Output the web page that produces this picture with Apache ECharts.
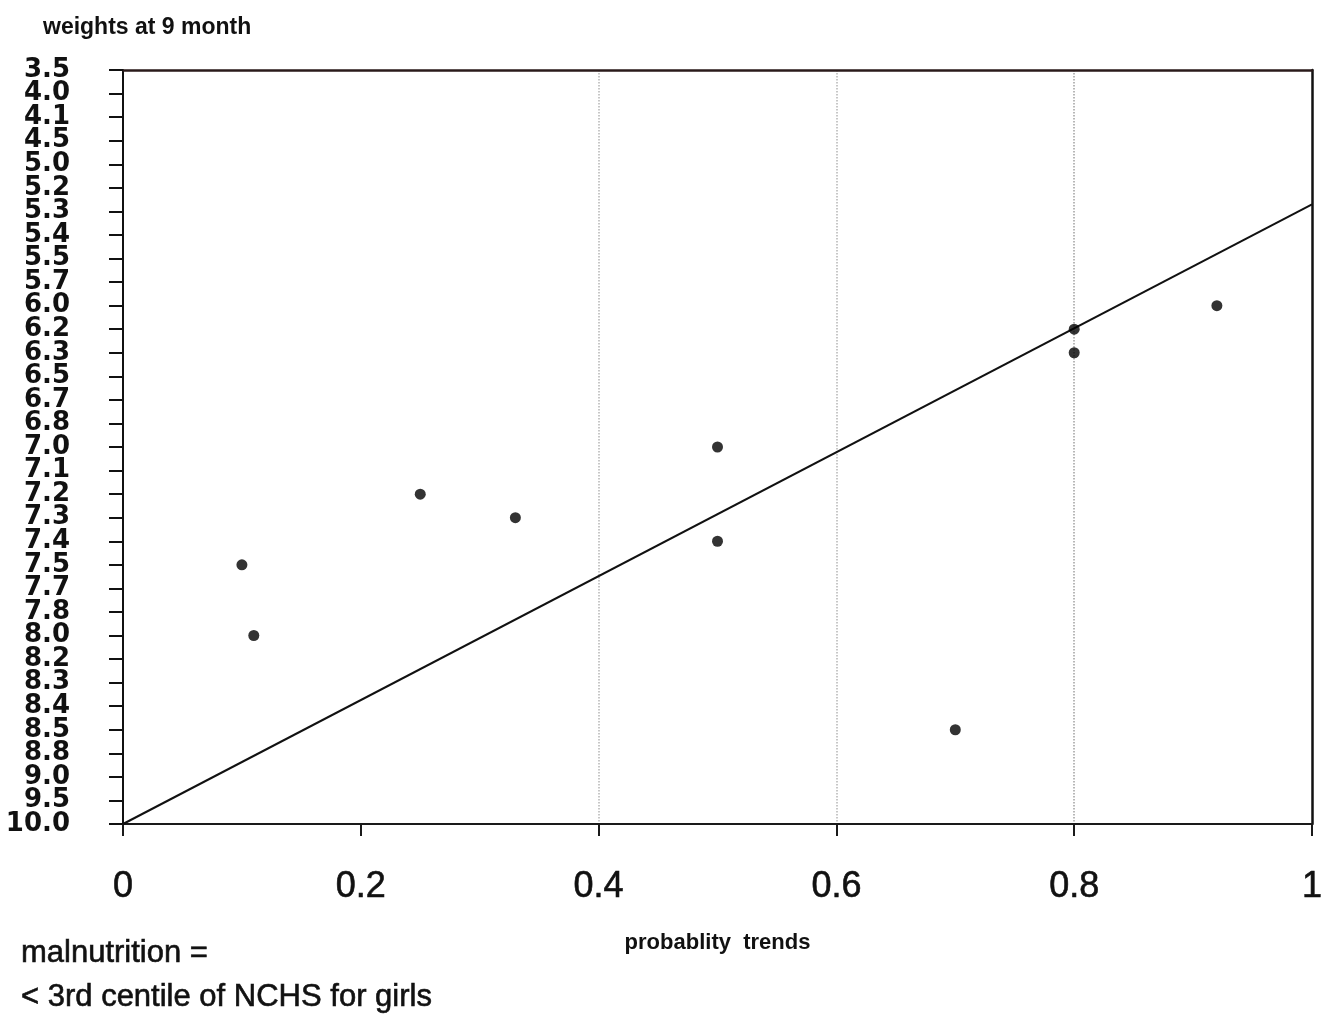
<!DOCTYPE html>
<html>
<head>
<meta charset="utf-8">
<script src="https://cdn.jsdelivr.net/npm/echarts@6/dist/echarts.min.js"></script>
<style>
  html, body { margin: 0; padding: 0; background: #fff; }
  #chart { width: 1327px; height: 1015px; }
</style>
</head>
<body>
<div id="chart"></div>
<script>
// Y axis tick labels (equally spaced in the original, top to bottom)
const yTickLabels = ['3.5','4.0','4.1','4.5','5.0','5.2','5.3','5.4','5.5','5.7',
  '6.0','6.2','6.3','6.5','6.7','6.8','7.0','7.1','7.2','7.3','7.4','7.5','7.7',
  '7.8','8.0','8.2','8.3','8.4','8.5','8.8','9.0','9.5','10.0'];
// X axis
const xTicks = [0, 0.2, 0.4, 0.6, 0.8, 1];
// Observed points: probability trend vs weight at 9 months (kg)
const pointsX = [0.10, 0.11, 0.25, 0.33, 0.50, 0.50, 0.70, 0.80, 0.80, 0.92];
const pointsW = [7.5, 8.0, 7.2, 7.3, 7.0, 7.4, 8.5, 6.2, 6.3, 6.0];
// Trend line
const trendX = [0, 1];
const trendW = [10.0, 5.27];

// piecewise-linear scale from weight to equally spaced tick position
const tickVals = yTickLabels.map(Number);
function weightToPos(w) {
  for (let i = 0; i < tickVals.length - 1; i++) {
    const a = tickVals[i], b = tickVals[i + 1];
    if (w >= a && w <= b) return i + (w - a) / (b - a);
  }
  return w < tickVals[0] ? 0 : tickVals.length - 1;
}

const chart = echarts.init(document.getElementById('chart'));
const option = {
  animation: false,
  backgroundColor: '#fff',
  title: [
    { text: 'weights at 9 month', left: 38, top: 11,
      textStyle: { fontFamily: 'Liberation Sans', fontSize: 23, fontWeight: 'bold', color: '#111' } },
    { text: 'malnutrition =\n< 3rd centile of NCHS for girls', left: 16, top: 926,
      textStyle: { fontFamily: 'Liberation Sans', fontSize: 31, fontWeight: 'normal', color: '#111', lineHeight: 44,
        textBorderColor: '#111', textBorderWidth: 0.6 } }
  ],
  grid: { left: 123, right: 15, top: 70, bottom: 191, containLabel: false },
  xAxis: [
    {
      type: 'value', min: 0, max: 1, interval: 0.2, position: 'bottom',
      name: 'probablity  trends', nameLocation: 'middle', nameGap: 108,
      nameTextStyle: { fontFamily: 'Liberation Sans', fontSize: 22, fontWeight: 'bold', color: '#111' },
      axisLine: { show: true, onZero: false, lineStyle: { color: '#1a1a1a', width: 2 } },
      axisTick: { show: true, inside: false, length: 12, lineStyle: { color: '#1a1a1a', width: 2 } },
      axisLabel: { margin: 45, fontFamily: 'Liberation Sans', fontSize: 36, color: '#111',
        textBorderColor: '#111', textBorderWidth: 0.6,
        showMinLabel: true, showMaxLabel: true, formatter: v => String(v) },
      splitLine: { show: true, lineStyle: { type: 'dotted', width: 1.5,
        color: ['rgba(0,0,0,0)', 'rgba(0,0,0,0)', '#b5b5b5', '#b5b5b5', '#a0a0a0', 'rgba(0,0,0,0)'] } }
    },
    {
      type: 'value', min: 0, max: 1, interval: 0.2, position: 'top',
      axisLine: { show: true, onZero: false, lineStyle: { color: '#2a1a1a', width: 2.5 } },
      axisTick: { show: false }, axisLabel: { show: false }, splitLine: { show: false }
    }
  ],
  yAxis: [
    {
      type: 'category', data: yTickLabels, boundaryGap: false, inverse: true, position: 'left',
      axisLine: { show: true, onZero: false, lineStyle: { color: '#111', width: 2 } },
      axisTick: { show: true, inside: false, length: 14, interval: 0, lineStyle: { color: '#111', width: 2 } },
      axisLabel: { interval: 0, margin: 53, fontFamily: 'DejaVu Sans', fontSize: 26, fontWeight: 'bold', color: '#111' },
      splitLine: { show: false }
    },
    {
      type: 'value', inverse: true, min: 0, max: yTickLabels.length - 1, interval: 1, position: 'right',
      axisLine: { show: true, onZero: false, lineStyle: { color: '#111', width: 2.5 } },
      axisTick: { show: false }, axisLabel: { show: false }, splitLine: { show: false }
    }
  ],
  series: [
    {
      type: 'line', xAxisIndex: 0, yAxisIndex: 1,
      data: trendX.map((x, i) => [x, weightToPos(trendW[i])]),
      showSymbol: false, symbol: 'none',
      lineStyle: { color: '#111', width: 2 }, z: 2
    },
    {
      type: 'scatter', xAxisIndex: 0, yAxisIndex: 1,
      data: pointsX.map((x, i) => [x, weightToPos(pointsW[i])]),
      symbol: 'circle', symbolSize: 11,
      itemStyle: { color: '#000' }, z: 3
    }
  ]
};
chart.setOption(option);
</script>
</body>
</html>
